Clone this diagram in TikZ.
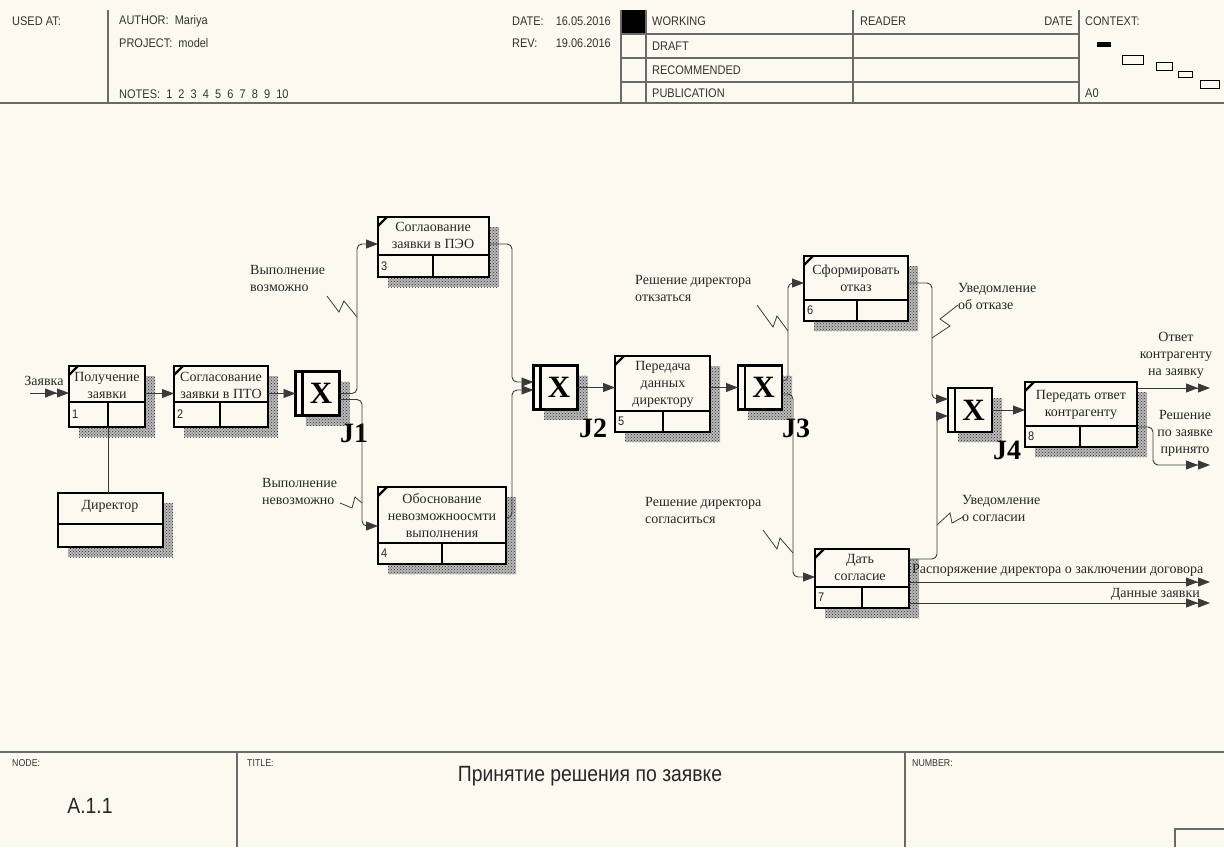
\documentclass[tikz,border=0pt]{standalone}
\usepackage{fontspec}
\setmainfont{Liberation Serif}
\newfontfamily\hdr[FakeStretch=0.88]{Liberation Sans}
\usetikzlibrary{arrows.meta,calc,patterns}
\definecolor{bg}{HTML}{FCFAF0}
\definecolor{ln}{HTML}{3A3A3A}
\definecolor{hl}{HTML}{6A6A6A}
\begin{document}
\begin{tikzpicture}[x=1pt,y=-1pt,
  boxline/.style={line width=2.7pt, black},
  box/.style={draw=black, line width=2.7pt, fill=bg, inner sep=0pt, outer sep=0pt, rectangle},
  shad/.style={fill=black!28, postaction={pattern=crosshatch dots, pattern color=black!80}},
  conn/.style={draw=ln, line width=0.9pt, rounded corners=5pt},
  arr/.style={conn, -{Triangle[length=12pt,width=9pt]}},
  darr/.style={conn, -{Triangle[length=12pt,width=9pt]Triangle[length=12pt,width=9pt]}},
  zig/.style={draw=ln, line width=0.8pt},
  btxt/.style={font=\fontsize{14}{17}\selectfont, align=center, inner sep=0pt, text=black!85},
  ltxt/.style={btxt, align=left},
  hd/.style={font=\hdr\fontsize{12.5}{14}\selectfont, inner sep=0pt, text=black!80},
  ft/.style={font=\hdr\fontsize{10}{12}\selectfont, inner sep=0pt, text=black!80},
  num/.style={font=\hdr\fontsize{12.5}{14}\selectfont, inner sep=0pt, text=black!85},
  jx/.style={font=\bfseries\fontsize{31}{31}\selectfont, inner sep=0pt},
  jl/.style={font=\bfseries\fontsize{28}{28}\selectfont, inner sep=0pt},
  hline/.style={draw=hl, line width=1.2pt}
]
\useasboundingbox (0,0) rectangle (1224,847);
\fill[bg] (0,0) rectangle (1224,847);

% ---------------- header ----------------
\fill[black] (621,10) rectangle (646,34);
\draw[hline] (108,10) -- (108,103) (621,10) -- (621,103) (646,10) -- (646,103)
             (853,10) -- (853,103) (1079,10) -- (1079,103);
\draw[hline] (621,34) -- (1079,34) (621,58) -- (1079,58) (621,82) -- (1079,82);
\draw[hline, line width=1.8pt] (0,103) -- (1224,103);
\node[hd, anchor=west] (hu) at (12,21) {USED AT:};
\node[hd, anchor=west] (ha) at (119,21) {AUTHOR:\ \ Mariya};
\node[hd, anchor=west] (hp) at (119,43) {PROJECT:\ \ model};
\node[hd, anchor=west] (hn) at (119,94) {NOTES:\ \ 1\ \ 2\ \ 3\ \ 4\ \ 5\ \ 6\ \ 7\ \ 8\ \ 9\ \ 10};
\node[hd, anchor=west] (hd1) at (512,21) {DATE:};
\node[hd, anchor=east] (hd2) at (611,21) {16.05.2016};
\node[hd, anchor=west] (hr1) at (512,43) {REV:};
\node[hd, anchor=east] (hr2) at (611,43) {19.06.2016};
\node[hd, anchor=west] (hw) at (652,21) {WORKING};
\node[hd, anchor=west] (hdr) at (652,46) {DRAFT};
\node[hd, anchor=west] (hrc) at (652,70) {RECOMMENDED};
\node[hd, anchor=west] (hpb) at (652,93) {PUBLICATION};
\node[hd, anchor=west] (hrd) at (860,21) {READER};
\node[hd, anchor=east] (hdt) at (1073,21) {DATE};
\node[hd, anchor=west] (hc) at (1085,21) {CONTEXT:};
\node[hd, anchor=west] (ha0) at (1085,93) {A0};
\fill[black] (1097,42) rectangle (1111,47);
\draw[black, line width=0.9pt] (1122,55) rectangle (1143,64)
  (1156,62) rectangle (1172,70) (1178,71) rectangle (1192,77) (1200,80) rectangle (1219,88);

% ---------------- footer ----------------
\draw[hline, line width=1.8pt] (0,752) -- (1224,752);
\draw[hline] (237,752) -- (237,847) (905,752) -- (905,847);
\draw[hline] (1224,829) -- (1175,829) -- (1175,847);
\node[ft, anchor=west] (fn) at (12,763) {NODE:};
\node[ft, anchor=west] (ftt) at (247,763) {TITLE:};
\node[ft, anchor=west] (fnb) at (912,763) {NUMBER:};
\node[font=\hdr\fontsize{22}{24}\selectfont, inner sep=0pt, text=black!85] (ftitle) at (590,776) {Принятие решения по заявке};
\node[font=\hdr\fontsize{22}{24}\selectfont, inner sep=0pt, text=black!85] (fnode) at (90,806) {A.1.1};

% ---------------- activity boxes ----------------
\foreach \n/\xa/\ya/\xb/\yb/\dv/\nd/\num in {
 b1/69/366/145/427/402/108/1,
 b2/174/366/268/427/402/220/2,
 b3/378/217/489/277/255/433/3,
 b4/378/487/506/564/543/442/4,
 b5/615/356/710/432/411/663/5,
 b6/804/256/908/321/300/857/6,
 b7/815/549/909/608/587/862/7,
 b8/1025/382/1137/447/426/1080/8}
{
 \fill[shad] (\xa+10,\ya+10) rectangle (\xb+10,\yb+10);
 \node[box, anchor=north west, minimum width={(\xb-\xa)*1pt}, minimum height={(\yb-\ya)*1pt}] (\n) at (\xa,\ya) {};
 \draw[boxline] (\xa,\dv) -- (\xb,\dv) (\nd,\dv) -- (\nd,\yb);
 \draw[boxline, line width=2.2pt] (\xa,\ya+9) -- (\xa+9,\ya);
 \node[num, anchor=west] (\n-n) at (\xa+3,{(\dv+\yb)/2}) {\num};
}
\node[btxt] (t1) at (107,385) {Получение\\заявки};
\node[btxt] (t2) at (221,385) {Согласование\\заявки в ПТО};
\node[btxt] (t3) at (433,235) {Соглаование\\заявки в ПЭО};
\node[btxt] (t4) at (442,516) {Обоснование\\невозможноосмти\\выполнения};
\node[btxt] (t5) at (663,384) {Передача\\данных\\директору};
\node[btxt] (t6) at (856,278) {Сформировать\\отказ};
\node[btxt] (t7) at (860,567) {Дать\\согласие};
\node[btxt] (t8) at (1081,405) {Передать ответ\\контрагенту};

% director box
\fill[shad] (68,503) rectangle (173,557);
\node[box, anchor=north west, minimum width=105pt, minimum height=54pt] (dir) at (58,493) {};
\draw[boxline] (58,524) -- (163,524);
\node[btxt] (tdir) at (110,506) {Директор};

% ---------------- junctions ----------------
\foreach \n/\x/\y in {j1/317.5/393.5, j2/555.5/387.5, j3/760/387.5, j4/970/410} {
 \fill[shad] (\x-12,\y-12) rectangle (\x+32,\y+32);
 \node[box, minimum width=44pt, minimum height=44pt] (\n) at (\x,\y) {};
 \draw[boxline] ([xshift=7pt]\n.north west) -- ([xshift=7pt]\n.south west);
 \node[jx] (\n x) at ([xshift=3.5pt]\n.center) {X};
}
\node[jl] (jl1) at (354,433) {J1};
\node[jl] (jl2) at (593,428) {J2};
\node[jl] (jl3) at (796,428) {J3};
\node[jl] (jl4) at (1007,450) {J4};

% ---------------- connectors ----------------
\coordinate (in0) at (30,393);
\coordinate (o1) at (1210,388);
\coordinate (o2) at (1210,465);
\coordinate (o3) at (1210,582);
\coordinate (o4) at (1210,603);
\draw[darr] (in0) -- (b1.west |- in0);
\draw[arr] (b1.east |- j1.west) -- (b2.west |- j1.west);
\draw[arr] (b2.east |- j1.west) -- (j1.west);
\draw[arr] (j1.east) -- (357,393.5) -- (357,244) -- (b3.west |- 0,244);
\draw[arr] ([yshift=-6pt]j1.east) -- (362,399.5) -- (362,526) -- (b4.west |- 0,526);
\draw[arr] (b3.east |- 0,244) -- (512,244) -- (512,382) -- ([yshift=5.5pt]j2.west);
\draw[arr] (b4.east |- 0,518) -- (512,518) -- (512,390) -- ([yshift=-2.5pt]j2.west);
\draw[arr] (j2.east) -- (b5.west |- j2.east);
\draw[arr] (b5.east |- j3.west) -- (j3.west);
\draw[arr] ([yshift=6.5pt]j3.east) -- (788,381) -- (788,283) -- (b6.west |- 0,283);
\draw[arr] ([yshift=-6.5pt]j3.east) -- (793,394) -- (793,577) -- (b7.west |- 0,577);
\draw[arr] (b6.east |- 0,283) -- (932,283) -- (932,399) -- ([yshift=11pt]j4.west);
\draw[arr] (b7.east |- 0,559) -- (937,559) -- (937,416) -- ([yshift=-6pt]j4.west);
\draw[arr] (j4.east) -- (b8.west |- j4.east);
\draw[darr] (b8.east |- o1) -- (o1);
\draw[darr] (b8.east |- 0,427) -- (1153,427) -- (1153,465) -- (o2);
\draw[darr] (b7.east |- o3) -- (o3);
\draw[darr] (b7.east |- o4) -- (o4);
\draw[conn] (b1.south -| 108,0) -- (dir.north -| 108,0);

% squiggles
\draw[zig] (327,296) -- (339,312) -- (344,301) -- (357,317);
\draw[zig] (340,503) -- (352,508) -- (355,497) -- (362,503);
\draw[zig] (757,305) -- (773,327) -- (777,316) -- (788,331);
\draw[zig] (958,305) -- (940,319) -- (950,326) -- (932,338);
\draw[zig] (763,530) -- (777,549) -- (780,538) -- (793,553);
\draw[zig] (937,525) -- (950,513) -- (952,523) -- (963,517);

% labels
\node[ltxt] (l0) at (44,381) {Заявка};
\node[ltxt, anchor=west] (l1) at (250,278.5) {Выполнение\\возможно};
\node[ltxt, anchor=west] (l2) at (262,491.5) {Выполнение\\невозможно};
\node[ltxt, anchor=west] (l3) at (635,288.5) {Решение директора\\откзаться};
\node[ltxt, anchor=west] (l4) at (958,296.5) {Уведомление\\об отказе};
\node[ltxt, anchor=west] (l5) at (645,510.5) {Решение директора\\согласиться};
\node[ltxt, anchor=west] (l6) at (962,508) {Уведомление\\о согласии};
\node[btxt] (l7) at (1176,355) {Ответ\\контрагенту\\на заявку};
\node[btxt] (l8) at (1185,433.5) {Решение\\по заявке\\принято};
\node[ltxt, anchor=west] (l9) at (912,570) {Распоряжение директора о заключении договора};
\node[ltxt, anchor=east] (l10) at (1200,594) {Данные заявки};
\end{tikzpicture}
\end{document}
